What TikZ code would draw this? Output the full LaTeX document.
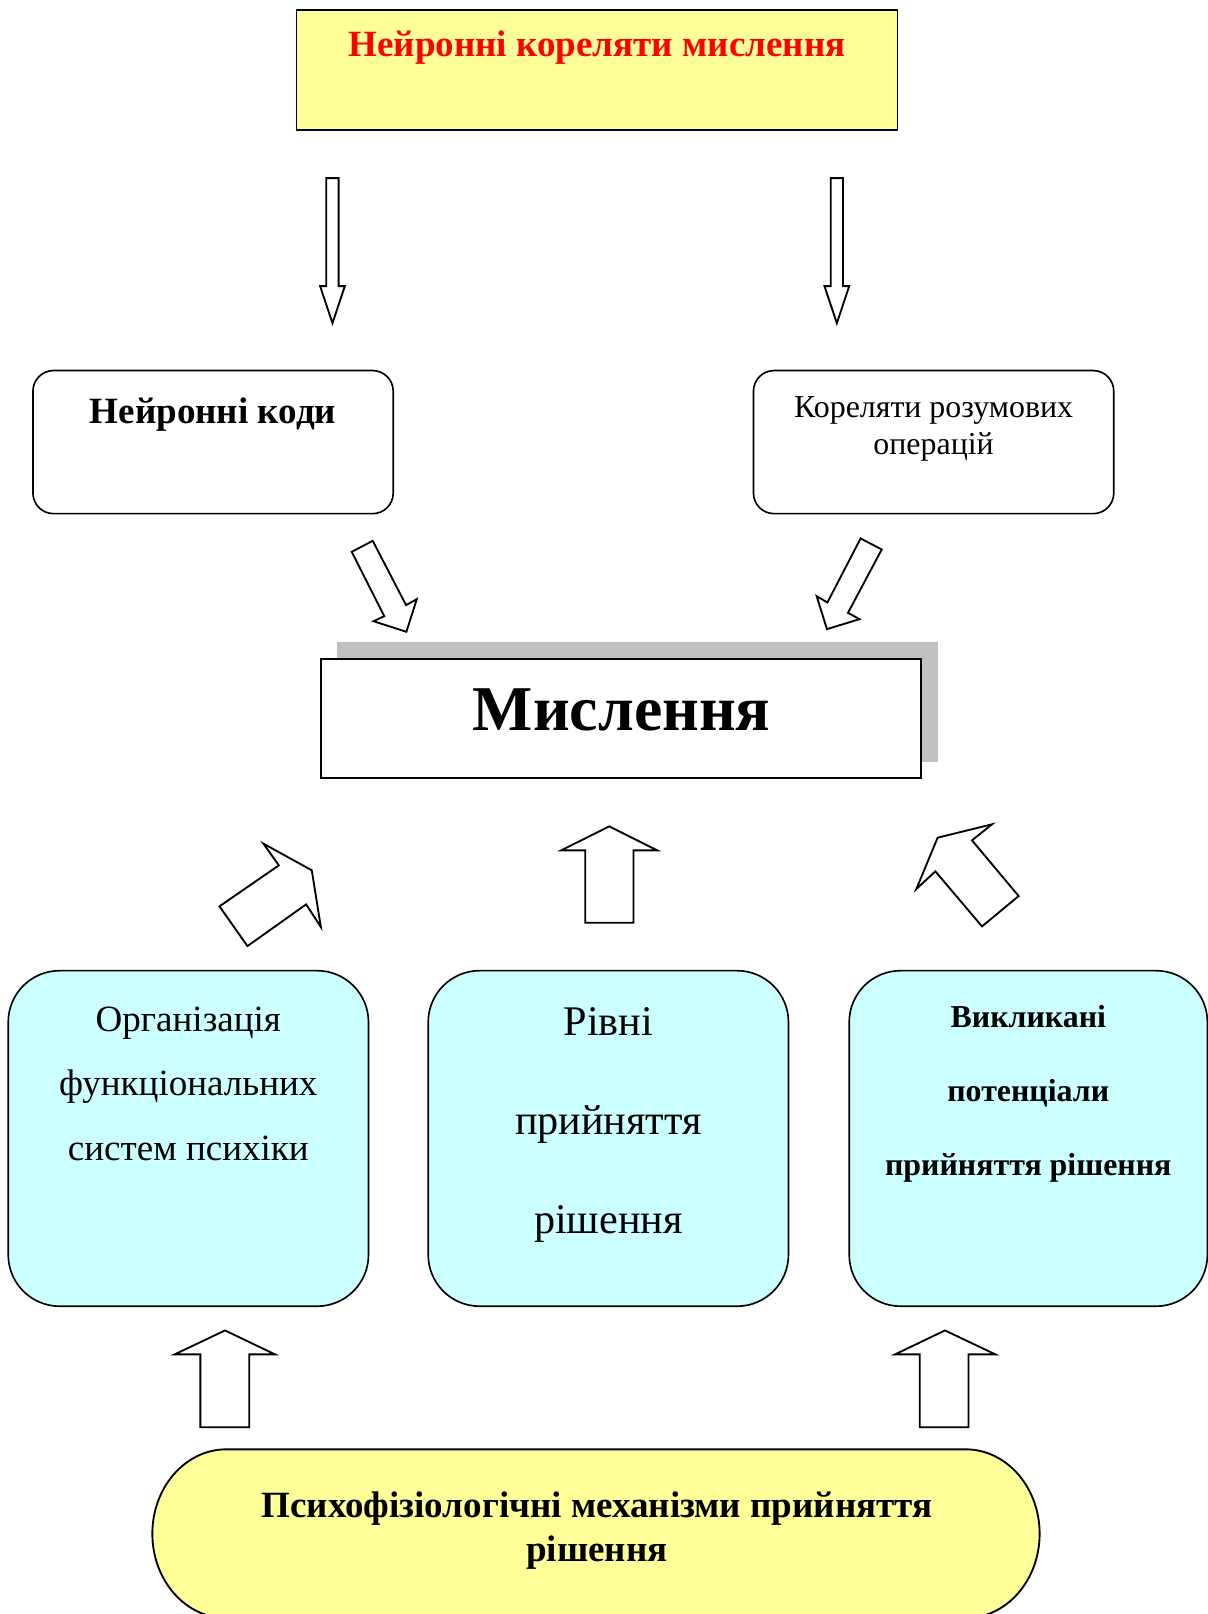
\documentclass[tikz,border=0pt]{standalone}
\usepackage{fontspec}
\setmainfont{Liberation Serif}
\definecolor{lightyellow}{HTML}{FFFF99}
\definecolor{lightcyan}{HTML}{CCFFFF}
\definecolor{shadowgray}{HTML}{C0C0C0}
\begin{document}
\begin{tikzpicture}[x=0.5pt,y=-0.5pt,
  box/.style={draw=black, line width=0.8pt, inner sep=0pt, outer sep=0pt},
  blockarrow/.style={draw=black, fill=white, line width=0.9pt, line join=miter},
  lbl/.style={inner sep=0pt, align=center}]
\useasboundingbox (0,0) rectangle (1173,1568);

% top box
\node[box, fill=lightyellow, minimum width=292pt, minimum height=58pt] (top) at (580,68) {};
\node[lbl, text=red, font=\fontsize{18}{21}\selectfont\bfseries] (toptxt) at (580,46) {Нейронні кореляти мислення};

% down arrows
\draw[blockarrow] (317,173) -- (329,173) -- (329,278) -- (335,278) -- (323,314) -- (311,278) -- (317,278) -- cycle;
\draw[blockarrow] (807,173) -- (819,173) -- (819,278) -- (825,278) -- (813,314) -- (801,278) -- (807,278) -- cycle;

% second row
\node[box, fill=white, rounded corners=10pt, minimum width=175pt, minimum height=69.5pt] (codes) at (207,429.5) {};
\node[lbl, font=\fontsize{18}{21}\selectfont\bfseries] (codestxt) at (207,403) {Нейронні коди};
\node[box, fill=white, rounded corners=10pt, minimum width=175pt, minimum height=69.5pt] (corr) at (907,429.5) {};
\node[lbl, font=\fontsize{15.5}{18}\selectfont] (corrtxt) at (907,417) {Кореляти розумових\\операцій};

% diagonal arrows down
\draw[blockarrow] (341.7,536.1) -- (362.1,525.4) -- (394.5,587.9) -- (404.9,582.1) -- (394.8,613.8) -- (362.9,603.5) -- (373.3,598.6) -- cycle;
\draw[blockarrow] (836.1,523.1) -- (856.6,533.8) -- (823.8,595.4) -- (835.0,601.5) -- (803.4,611.2) -- (793.4,579.2) -- (803.8,585.3) -- cycle;

% central box
\fill[shadowgray] (327,624) rectangle (911,740);
\node[box, fill=white, minimum width=291.5pt, minimum height=58pt] (think) at (603.5,698) {};
\node[lbl, font=\fontsize{31}{36}\selectfont\bfseries] (thinktxt) at (604,690) {Мислення};

% arrows up to central box
\draw[blockarrow] (213.2,880.5) -- (270.9,840.7) -- (255.9,819.6) -- (302.9,845.5) -- (311.7,900.6) -- (297.4,878.6) -- (240.4,919.1) -- cycle;
\draw[blockarrow] (568.6,896.4) -- (568.6,826.1) -- (545.2,826.1) -- (591.9,802.8) -- (638.5,826.1) -- (615.5,826.1) -- (615.5,896.4) -- cycle;
\draw[blockarrow] (954.0,900.0) -- (989.6,870.5) -- (944.3,816.4) -- (963.7,800.8) -- (910.9,813.8) -- (890.2,863.7) -- (908.7,846.5) -- cycle;

% cyan boxes
\node[box, fill=lightcyan, rounded corners=25pt, minimum width=175pt, minimum height=163pt] (org) at (183,1106) {};
\node[lbl, font=\fontsize{18}{31.25}\selectfont] (orgtxt) at (183,1053) {Організація\\функціональних\\систем психіки};
\node[box, fill=lightcyan, rounded corners=25pt, minimum width=175pt, minimum height=163pt] (lev) at (591,1106) {};
\node[lbl, font=\fontsize{20.5}{48}\selectfont] (levtxt) at (591,1093) {Рівні\\прийняття\\рішення};
\node[box, fill=lightcyan, rounded corners=25pt, minimum width=174pt, minimum height=163pt] (evp) at (999,1106) {};
\node[lbl, font=\fontsize{15.5}{36}\selectfont\bfseries] (evptxt) at (999,1063) {Викликані\\потенціали\\прийняття рішення};

% bottom arrows
\draw[blockarrow] (194.7,1386.5) -- (194.7,1315.8) -- (169.6,1315.8) -- (218.6,1292.5) -- (267.2,1315.8) -- (242.1,1315.8) -- (242.1,1386.5) -- cycle;
\draw[blockarrow] (893.5,1386.5) -- (893.5,1315.8) -- (869.5,1315.8) -- (918.0,1292.5) -- (967.1,1315.8) -- (940.9,1315.8) -- (940.9,1386.5) -- cycle;

% bottom stadium
\draw[line width=0.9pt, fill=lightyellow] (220,1408) -- (938,1408)
  .. controls (977.8,1408) and (1010,1444.7) .. (1010,1490)
  .. controls (1010,1535.3) and (977.8,1572) .. (938,1572)
  -- (220,1572)
  .. controls (180.2,1572) and (148,1535.3) .. (148,1490)
  .. controls (148,1444.7) and (180.2,1408) .. (220,1408) -- cycle;
\node[lbl, font=\fontsize{18}{21.5}\selectfont\bfseries] (mechtxt) at (580,1487) {Психофізіологічні механізми прийняття\\рішення};
\end{tikzpicture}
\end{document}
